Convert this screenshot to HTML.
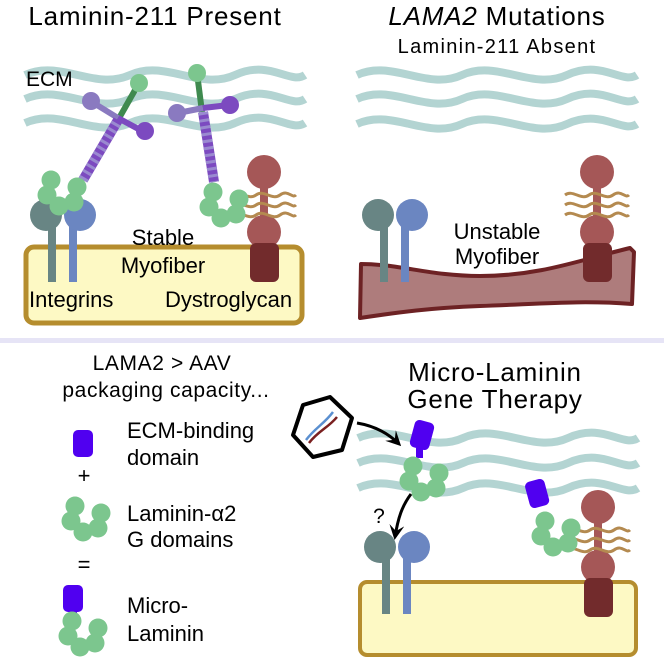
<!DOCTYPE html>
<html><head><meta charset="utf-8"><style>
html,body{margin:0;padding:0;background:#fff}
svg{display:block;font-family:"Liberation Sans",sans-serif}
</style></head><body>
<svg width="664" height="664" viewBox="0 0 664 664">
<defs>
<path id="wv" d="M0,0 C35,-16 70,16 105,0 C140,-16 175,16 210,0 C245,-16 265,10 280,0" fill="none" stroke="#b3d4d2" stroke-width="8"/>
<path id="bw" d="M0,0 c8,-6 16,6 24,0 c8,-6 16,6 24,0 c8,-6 12,4 16,0" fill="none" stroke="#b48a50" stroke-width="3"/>
<g id="gd" fill="#7cc68e"><circle cx="0" cy="0" r="9.5"/><circle cx="-4" cy="15" r="9.5"/><circle cx="8" cy="26" r="9.5"/><circle cx="23" cy="22" r="9.5"/><circle cx="26" cy="7" r="9.5"/></g>
<g id="dg">
<rect x="-4" y="0" width="8" height="60" fill="#a55757"/>
<circle cx="0" cy="0" r="17" fill="#a55757"/><circle cx="0" cy="60" r="17" fill="#a55757"/>
<rect x="-14" y="71" width="29" height="39" rx="6" fill="#722b2c"/>
<use href="#bw" x="-32" y="23"/><use href="#bw" x="-32" y="33"/><use href="#bw" x="-32" y="43"/></g>
<g id="ig"><rect x="2" y="0" width="8" height="67" fill="#688584"/><circle cx="0" cy="0" r="16" fill="#688584"/>
<rect x="23" y="0" width="8" height="67" fill="#6b86c1"/><circle cx="34" cy="0" r="16" fill="#6b86c1"/></g>
<marker id="ah" viewBox="0 0 10 10" refX="8" refY="5" markerWidth="5" markerHeight="5" orient="auto"><path d="M0,0 L10,5 L0,10 L4,5z" fill="#000"/></marker>
</defs>

<!-- Top left -->
<text x="155" y="25" font-size="26" letter-spacing="0.8" text-anchor="middle">Laminin-211 Present</text>
<use href="#wv" x="25" y="75"/><use href="#wv" x="25" y="99"/><use href="#wv" x="25" y="123"/>
<text x="26" y="86" font-size="21">ECM</text>
<rect x="26" y="247" width="276" height="76" rx="8" fill="#fdf9c4" stroke="#b58d2e" stroke-width="5"/>
<use href="#ig" x="46" y="215"/>
<use href="#dg" x="264" y="172"/>
<!-- laminin left -->
<line x1="118" y1="120" x2="139" y2="83" stroke="#3f8a4f" stroke-width="6"/>
<circle cx="139" cy="83" r="9" fill="#7cc68e"/>
<line x1="92" y1="102" x2="118" y2="118" stroke="#8a7ac0" stroke-width="6"/>
<circle cx="91" cy="101" r="9" fill="#8a7ac0"/>
<line x1="118" y1="118" x2="144" y2="132" stroke="#7c4ac0" stroke-width="6"/>
<circle cx="145" cy="131" r="9" fill="#7c4ac0"/>
<line x1="83" y1="180" x2="118" y2="120" stroke="#7c4ac0" stroke-width="10"/>
<line x1="83" y1="180" x2="118" y2="120" stroke="#9a8ad0" stroke-width="10" stroke-dasharray="3 4"/>
<use href="#gd" x="51" y="180"/>
<!-- laminin right -->
<line x1="197" y1="73" x2="202" y2="112" stroke="#3f8a4f" stroke-width="6"/>
<circle cx="197" cy="73" r="9" fill="#7cc68e"/>
<line x1="178" y1="113" x2="203" y2="108" stroke="#8a7ac0" stroke-width="6"/>
<circle cx="177" cy="113" r="9" fill="#8a7ac0"/>
<line x1="203" y1="108" x2="229" y2="105" stroke="#7c4ac0" stroke-width="6"/>
<circle cx="230" cy="105" r="9" fill="#7c4ac0"/>
<line x1="203" y1="112" x2="214" y2="182" stroke="#7c4ac0" stroke-width="10"/>
<line x1="203" y1="112" x2="214" y2="182" stroke="#9a8ad0" stroke-width="10" stroke-dasharray="3 4"/>
<use href="#gd" x="213" y="192"/>
<text x="163" y="245" font-size="22" text-anchor="middle">Stable</text>
<text x="163" y="273" font-size="22" text-anchor="middle">Myofiber</text>
<text x="29" y="307" font-size="22">Integrins</text>
<text x="165" y="307" font-size="22">Dystroglycan</text>

<!-- Top right -->
<text x="497" y="25" font-size="26" letter-spacing="0.8" text-anchor="middle"><tspan font-style="italic">LAMA2</tspan> Mutations</text>
<text x="497" y="53" font-size="20" letter-spacing="1.3" text-anchor="middle">Laminin-211 Absent</text>
<use href="#wv" x="357" y="75"/><use href="#wv" x="357" y="99"/><use href="#wv" x="357" y="124"/>
<path d="M361,264 C400,264 430,276 480,276 C540,276 580,260 630,248 L634,252 L632,304 C580,300 540,304 480,306 C430,308 400,312 360,318 Z" fill="#ae7c7c" stroke="#6d2224" stroke-width="4" stroke-linejoin="round"/>
<use href="#ig" x="378" y="215"/>
<use href="#dg" x="597" y="172"/>
<text x="497" y="239" font-size="22" text-anchor="middle">Unstable</text>
<text x="497" y="264" font-size="22" text-anchor="middle">Myofiber</text>

<!-- divider -->
<rect x="0" y="338" width="664" height="5" fill="#e6e4f6"/>

<!-- Bottom left -->
<text x="162" y="370" font-size="21" letter-spacing="0.6" text-anchor="middle">LAMA2 &gt; AAV</text>
<text x="166" y="397" font-size="21" letter-spacing="0.6" text-anchor="middle">packaging capacity...</text>
<rect x="73" y="430" width="20" height="27" rx="5" fill="#5000f0"/>
<text x="127" y="438" font-size="22">ECM-binding</text>
<text x="127" y="465" font-size="22">domain</text>
<text x="84" y="483" font-size="22" text-anchor="middle">+</text>
<use href="#gd" x="75" y="506"/>
<text x="127" y="521" font-size="22">Laminin-α2</text>
<text x="127" y="547" font-size="22">G domains</text>
<text x="84" y="572" font-size="22" text-anchor="middle">=</text>
<rect x="63" y="585" width="20" height="27" rx="5" fill="#5000f0"/>
<rect x="69" y="608" width="8" height="8" fill="#5000f0"/>
<use href="#gd" x="72" y="621"/>
<text x="127" y="613" font-size="22">Micro-</text>
<text x="127" y="641" font-size="22">Laminin</text>

<!-- Bottom right -->
<text x="495" y="381" font-size="26" letter-spacing="0.8" text-anchor="middle">Micro-Laminin</text>
<text x="495" y="408" font-size="26" letter-spacing="0.8" text-anchor="middle">Gene Therapy</text>
<use href="#wv" x="358" y="438"/><use href="#wv" x="358" y="463"/><use href="#wv" x="358" y="488"/>
<rect x="360" y="582" width="276" height="73" rx="7" fill="#fdf9c4" stroke="#b58d2e" stroke-width="4"/>
<use href="#ig" x="380" y="547"/>
<use href="#dg" x="598" y="507"/>
<polygon points="303,405 330,397 352,418 342,450 313,457 293,435" fill="#fff" stroke="#000" stroke-width="4" stroke-linejoin="round"/>
<path d="M306,440 C315,428 324,424 333,412" fill="none" stroke="#5a8fd0" stroke-width="2.5"/>
<path d="M309,443 C318,431 328,428 337,417" fill="none" stroke="#7a2020" stroke-width="2.5"/>
<path d="M357,423 C375,426 388,433 399,444" fill="none" stroke="#000" stroke-width="3" marker-end="url(#ah)"/>
<rect x="412" y="421" width="20" height="28" rx="5" fill="#5000f0" transform="rotate(15 422 435)"/>
<rect x="416" y="448" width="7" height="10" fill="#5000f0"/>
<use href="#gd" x="413" y="466"/>
<path d="M411,494 C402,506 398,518 395,537" fill="none" stroke="#000" stroke-width="3" marker-end="url(#ah)"/>
<text x="379" y="523" font-size="21" text-anchor="middle">?</text>
<rect x="527" y="480" width="20" height="27" rx="5" fill="#5000f0" transform="rotate(-15 537 493)"/>
<use href="#gd" x="545" y="521"/>
</svg>
</body></html>
